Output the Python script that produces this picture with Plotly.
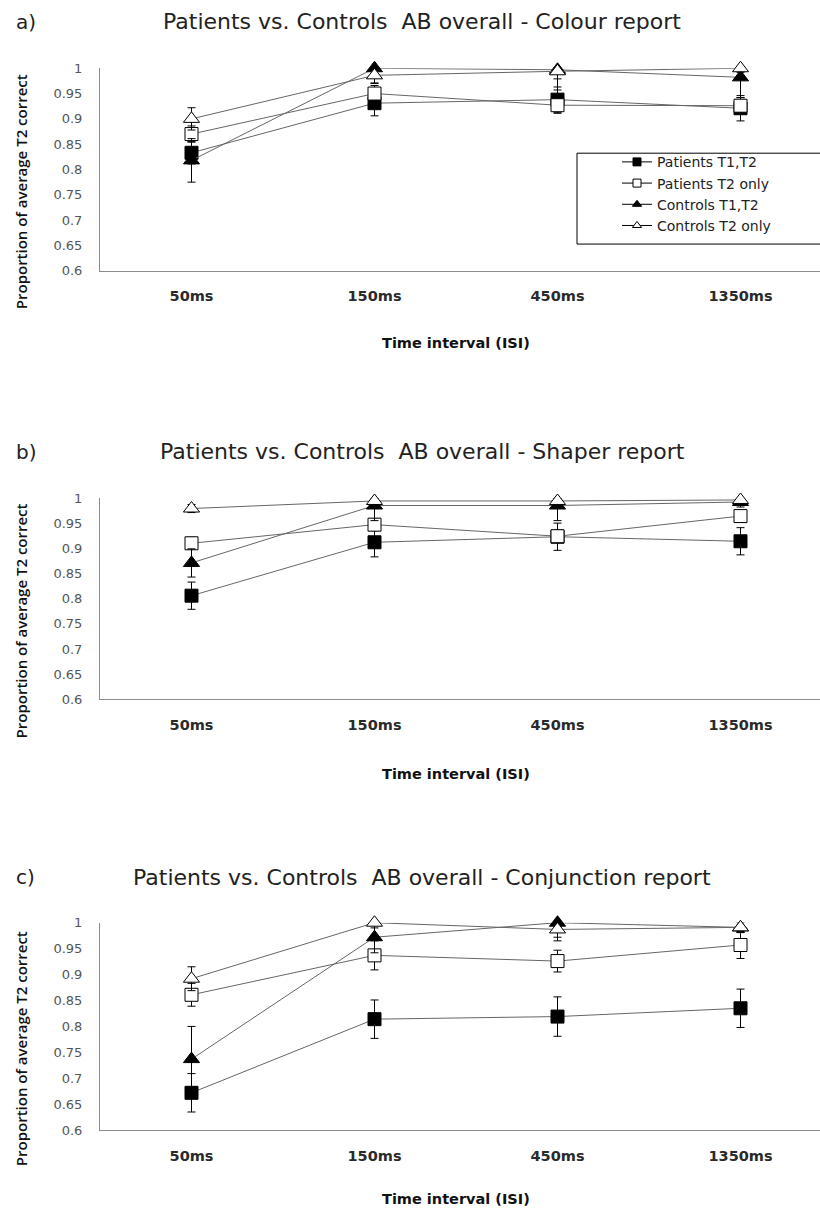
import plotly.graph_objects as go

# Inter-stimulus intervals (categories on the x axis)
isi = ["50ms", "150ms", "450ms", "1350ms"]
series_names = ["Patients T1,T2", "Patients T2 only", "Controls T1,T2", "Controls T2 only"]
y_tick_vals = [0.6, 0.65, 0.7, 0.75, 0.8, 0.85, 0.9, 0.95, 1.0]
y_tick_text = ["0.6", "0.65", "0.7", "0.75", "0.8", "0.85", "0.9", "0.95", "1"]

# a) Colour report
colour_pat_t1t2 = [0.833, 0.931, 0.938, 0.921]
colour_pat_t1t2_err = [0.022, 0.025, 0.025, 0.025]
colour_pat_t2 = [0.870, 0.950, 0.927, 0.926]
colour_pat_t2_err = [0.016, 0.016, 0.016, 0.016]
colour_con_t1t2 = [0.818, 1.000, 0.997, 0.982]
colour_con_t1t2_err = [0.043, 0.030, 0.040, 0.040]
colour_con_t2 = [0.900, 0.986, 0.994, 1.000]
colour_con_t2_err = [0.022, 0.015, 0.015, 0.008]

# b) Shape report
shape_pat_t1t2 = [0.806, 0.912, 0.923, 0.914]
shape_pat_t1t2_err = [0.027, 0.029, 0.027, 0.027]
shape_pat_t2 = [0.910, 0.947, 0.924, 0.964]
shape_pat_t2_err = [0.012, 0.012, 0.012, 0.012]
shape_con_t1t2 = [0.871, 0.985, 0.985, 0.992]
shape_con_t1t2_err = [0.028, 0.030, 0.030, 0.010]
shape_con_t2 = [0.979, 0.994, 0.994, 0.996]
shape_con_t2_err = [0.008, 0.005, 0.005, 0.004]

# c) Conjunction report
conj_pat_t1t2 = [0.672, 0.814, 0.819, 0.835]
conj_pat_t1t2_err = [0.037, 0.037, 0.038, 0.037]
conj_pat_t2 = [0.861, 0.937, 0.926, 0.957]
conj_pat_t2_err = [0.022, 0.028, 0.021, 0.026]
conj_con_t1t2 = [0.737, 0.972, 1.000, 0.991]
conj_con_t1t2_err = [0.063, 0.030, 0.035, 0.010]
conj_con_t2 = [0.892, 1.000, 0.987, 0.991]
conj_con_t2_err = [0.023, 0.010, 0.015, 0.010]

panels = [
    ("a)", "Patients vs. Controls \u00a0AB overall - Colour report",
     [(colour_pat_t1t2, colour_pat_t1t2_err), (colour_pat_t2, colour_pat_t2_err),
      (colour_con_t1t2, colour_con_t1t2_err), (colour_con_t2, colour_con_t2_err)]),
    ("b)", "Patients vs. Controls \u00a0AB overall - Shaper report",
     [(shape_pat_t1t2, shape_pat_t1t2_err), (shape_pat_t2, shape_pat_t2_err),
      (shape_con_t1t2, shape_con_t1t2_err), (shape_con_t2, shape_con_t2_err)]),
    ("c)", "Patients vs. Controls \u00a0AB overall - Conjunction report",
     [(conj_pat_t1t2, conj_pat_t1t2_err), (conj_pat_t2, conj_pat_t2_err),
      (conj_con_t1t2, conj_con_t1t2_err), (conj_con_t2, conj_con_t2_err)]),
]

W, H = 820, 1231
# pixel rows of the 0.6 and 1.0 levels, headings and x titles for each panel
y_bottom_px = [267, 701, 1137]
y_top_px = [62, 497, 927]
title_px = [15, 450, 881]
xtitle_px = [340, 776, 1207]
x_left_px = 100
cat_step_px = 183.0

marker_symbols = ["square", "square", "triangle-up", "triangle-up"]
marker_fill = ["black", "white", "black", "white"]
marker_size = [13, 13, 14, 14]

fig = go.Figure()
annotations = []
shapes = []

for p, (tag, title, series) in enumerate(panels):
    xa = "x" if p == 0 else f"x{p + 1}"
    ya = "y" if p == 0 else f"y{p + 1}"
    for s, (vals, errs) in enumerate(series):
        fig.add_trace(go.Scatter(
            x=isi, y=vals, mode="lines+markers", name=series_names[s],
            xaxis=xa, yaxis=ya,
            line=dict(color="#666666", width=1),
            marker=dict(symbol=marker_symbols[s], size=marker_size[s], color=marker_fill[s],
                        line=dict(color="black", width=1)),
            error_y=dict(type="data", array=errs, visible=True, color="black",
                         thickness=1, width=4),
            cliponaxis=False,
            showlegend=False,
        ))

    bottom = 1 - y_bottom_px[p] / H
    top = 1 - y_top_px[p] / H
    span_px = W - x_left_px
    xaxis_cfg = dict(
        domain=[x_left_px / W, 1], type="category",
        range=[-0.5, -0.5 + span_px / cat_step_px],
        showline=True, linecolor="#8c8c8c", linewidth=1, showgrid=False,
        zeroline=False, ticks="", ticklabelstandoff=12,
        tickfont=dict(family="DejaVu Sans", size=14.5, color="#2a2a2a", weight="bold"),
        anchor=ya,
    )
    yaxis_cfg = dict(
        domain=[bottom, top], range=[0.6, 1.0],
        tickvals=y_tick_vals, ticktext=y_tick_text,
        showline=True, linecolor="#8c8c8c", linewidth=1, showgrid=False,
        zeroline=False, ticks="", ticklabelstandoff=14,
        tickfont=dict(family="DejaVu Sans", size=13, color="#555555"),
        anchor=xa,
    )
    fig.update_layout(**{("xaxis" if p == 0 else f"xaxis{p + 1}"): xaxis_cfg,
                         ("yaxis" if p == 0 else f"yaxis{p + 1}"): yaxis_cfg})

    # panel tag and heading
    annotations.append(dict(text=tag, x=14 / W, y=1 - title_px[p] / H, xref="paper", yref="paper",
                            xanchor="left", yanchor="middle", showarrow=False,
                            font=dict(family="DejaVu Sans", size=20, color="#222222")))
    annotations.append(dict(text=title, x=422 / W, y=1 - title_px[p] / H, xref="paper", yref="paper",
                            xanchor="center", yanchor="middle", showarrow=False,
                            font=dict(family="DejaVu Sans", size=22, color="#222222")))
    # axis titles
    annotations.append(dict(text="Time interval (ISI)", x=456 / W,
                            y=1 - xtitle_px[p] / H, xref="paper", yref="paper",
                            xanchor="center", yanchor="middle", showarrow=False,
                            font=dict(family="DejaVu Sans", size=14.5, color="#111111", weight="bold")))
    annotations.append(dict(text="Proportion of average T2 correct", x=21 / W,
                            y=1 - ((y_bottom_px[p] + y_top_px[p]) / 2 + 23) / H,
                            xref="paper", yref="paper", textangle=-90,
                            xanchor="center", yanchor="middle", showarrow=False,
                            font=dict(family="Open Sans", size=15, color="#111111", weight=600)))

# legend entries (drawn only in the key, with smaller symbols)
for s in range(4):
    fig.add_trace(go.Scatter(
        x=[None], y=[None], mode="lines+markers", name=series_names[s],
        line=dict(color="black", width=1),
        marker=dict(symbol=marker_symbols[s], size=8, color=marker_fill[s],
                    line=dict(color="black", width=1)),
        legendgroup=series_names[s], showlegend=True,
    ))

# legend frame in the first panel
shapes.append(dict(type="rect", xref="paper", yref="paper",
                   x0=577 / W, x1=840 / W, y0=1 - 240 / H, y1=1 - 148 / H,
                   line=dict(color="black", width=1), fillcolor="white", layer="below"))

fig.update_layout(
    width=W, height=H,
    margin=dict(l=0, r=0, t=0, b=0),
    paper_bgcolor="white", plot_bgcolor="white",
    annotations=annotations, shapes=shapes,
    legend=dict(x=617 / W, y=1 - 141 / H, xanchor="left", yanchor="top",
                bgcolor="rgba(0,0,0,0)", borderwidth=0, tracegroupgap=0,
                font=dict(family="DejaVu Sans", size=14, color="#222222")),
)

fig.write_html("out.html")
